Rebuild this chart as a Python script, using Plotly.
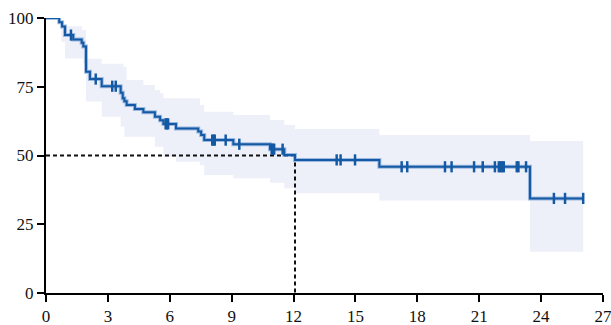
import numpy as np
import plotly.graph_objects as go

# Kaplan-Meier estimate (months, % surviving)
km_time = [0, 0.64, 0.78, 0.92, 1.32, 1.73, 1.81, 1.94, 2.13, 2.70, 3.62, 3.72, 3.80,
           3.91, 4.31, 4.72, 5.28, 5.53, 5.69, 6.30, 7.38, 7.52, 7.67, 9.08, 10.86,
           11.55, 12.07, 16.16, 23.46]
km_surv = [100, 98.5, 96.9, 93.8, 92.2, 91.0, 89.6, 80.5, 77.8, 75.2, 72.8, 70.8, 69.7,
           68.4, 66.9, 65.7, 64.1, 62.8, 61.5, 59.8, 58.7, 57.5, 55.6, 54.1, 52.3,
           50.2, 48.4, 45.9, 34.4]
follow_up_end = 26.04

# 95% confidence band
upper_time = [0.74, 1.75, 1.94, 2.70, 3.75, 3.91, 4.72, 5.28, 5.53, 5.69, 7.46, 7.67,
              9.08, 10.86, 11.55, 12.07, 16.16, 23.46]
upper_val = [97.0, 95.6, 85.2, 83.4, 82.3, 77.5, 75.6, 73.8, 72.6, 70.8, 68.4, 65.9,
             64.7, 62.9, 61.1, 59.6, 57.5, 55.3]
lower_time = [0.74, 0.92, 1.81, 1.94, 2.70, 3.62, 3.80, 5.28, 5.69, 6.30, 7.46, 7.67,
              9.08, 10.86, 11.55, 12.07, 16.16, 23.46]
lower_val = [91.4, 85.3, 83.5, 69.6, 64.1, 60.5, 56.8, 53.2, 49.5, 47.7, 46.5, 42.9,
             41.7, 40.1, 38.1, 36.3, 33.6, 15.0]

# Censored observations
censor_time = [1.21, 2.41, 3.21, 3.38, 5.80, 5.86, 5.92, 8.06, 8.12, 8.18, 8.71, 9.37,
               10.94, 11.00, 11.06, 11.47, 14.09, 14.28, 14.98, 17.24, 17.51, 19.34,
               19.66, 20.75, 21.17, 21.76, 21.95, 22.03, 22.11, 22.19, 22.82, 22.90,
               23.27, 24.62, 25.16, 26.04]

median_time = 12.07
median_level = 50

x_ticks = [0, 3, 6, 9, 12, 15, 18, 21, 24, 27]
y_ticks = [0, 25, 50, 75, 100]

LINE = "#1459a3"
HALO = "rgba(90,140,205,0.55)"
BAND = "#eef0f9"


def step_points(ts, vs, end):
    xs, ys = [], []
    bounds = list(ts[1:]) + [end]
    for t0, t1, v in zip(ts, bounds, vs):
        xs += [t0, t1]
        ys += [v, v]
    return xs, ys


ux, uy = step_points(upper_time, upper_val, follow_up_end)
lx, ly = step_points(lower_time, lower_val, follow_up_end)
band_x = ux + lx[::-1]
band_y = uy + ly[::-1]

idx = np.searchsorted(np.array(km_time), np.array(censor_time), side="right") - 1
censor_surv = [km_surv[i] for i in idx]

line_x = km_time + [follow_up_end]
line_y = km_surv + [km_surv[-1]]

fig = go.Figure()
fig.add_trace(go.Scatter(x=band_x, y=band_y, fill="toself", fillcolor=BAND,
                         mode="lines", line=dict(width=0), hoverinfo="skip"))
fig.add_trace(go.Scatter(x=[0, median_time], y=[median_level, median_level], mode="lines",
                         line=dict(color="#111111", width=2, dash="4px,3px")))
fig.add_trace(go.Scatter(x=[median_time, median_time], y=[median_level, 0], mode="lines",
                         line=dict(color="#111111", width=2, dash="4px,3px")))
fig.add_trace(go.Scatter(x=line_x, y=line_y, mode="lines", line_shape="hv",
                         line=dict(color=HALO, width=4)))
fig.add_trace(go.Scatter(x=line_x, y=line_y, mode="lines", line_shape="hv",
                         line=dict(color=LINE, width=2)))
fig.add_trace(go.Scatter(x=censor_time, y=censor_surv, mode="markers", cliponaxis=False,
                         marker=dict(symbol="line-ns", size=8, color=LINE,
                                     line=dict(color=LINE, width=2.5))))

axis_font = dict(family="Liberation Sans Narrow", size=17, color="#111111")
common = dict(ticks="outside", ticklen=7, tickwidth=2, tickcolor="black",
              showline=True, linewidth=2, linecolor="black", showgrid=False,
              zeroline=False, tickfont=axis_font, automargin=False,
              ticklabeloverflow="allow")
fig.update_layout(
    width=611, height=325,
    margin=dict(l=46, r=8, t=18, b=32),
    paper_bgcolor="white", plot_bgcolor="white",
    showlegend=False,
    xaxis=dict(range=[0, 27], tickvals=x_ticks, **common),
    yaxis=dict(range=[0, 100], tickvals=y_ticks, **common),
)

fig.write_html("out.html")
